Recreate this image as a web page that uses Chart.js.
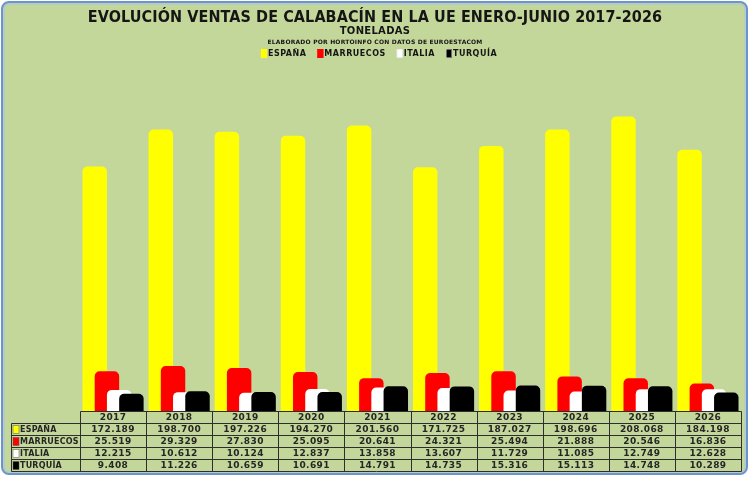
<!DOCTYPE html>
<html>
<head>
<meta charset="utf-8">
<script src="https://cdn.jsdelivr.net/npm/chart.js@4.4.0/dist/chart.umd.min.js"></script>
<style>
  html, body { margin: 0; padding: 0; background: #ffffff; }
  #wrap { width: 750px; height: 477px; }
</style>
</head>
<body>
<div id="wrap"><canvas id="myChart" width="750" height="477"></canvas></div>
<script>
// Datos (toneladas), enero-junio
var years = ["2017", "2018", "2019", "2020", "2021", "2022", "2023", "2024", "2025", "2026"];
var espana = [172189, 198700, 197226, 194270, 201560, 171725, 187027, 198696, 208068, 184198];
var marruecos = [25519, 29329, 27830, 25095, 20641, 24321, 25494, 21888, 20546, 16836];
var italia = [12215, 10612, 10124, 12837, 13858, 13607, 11729, 11085, 12749, 12628];
var turquia = [9408, 11226, 10659, 10691, 14791, 14735, 15316, 15113, 14748, 10289];
var seriesNames = ["ESPAÑA", "MARRUECOS", "ITALIA", "TURQUÍA"];
var seriesColors = ["#ffff00", "#ff0000", "#ffffff", "#000000"];

var Y_MIN = -2900;
var Y_MAX = 250000;
var BG = '#c4d79b';
var FONT = '"DejaVu Sans", Verdana, sans-serif';

//1.234 style thousands separator
function fmt(v) {
    var t = Math.floor(v / 1000);
    var r = String(v % 1000);
    while (r.length < 3) r = '0' + r;
    return t + '.' + r;
}

// frame + background
var framePlugin = {
    id: 'frame',
    beforeDraw: function (chart) {
        var ctx = chart.ctx;
        ctx.save();
        ctx.fillStyle = '#ffffff';
        ctx.fillRect(0, 0, chart.width, chart.height);
        ctx.beginPath();
        ctx.roundRect(2, 2, chart.width - 5, chart.height - 5, 7);
        ctx.fillStyle = BG;
        ctx.fill();
        ctx.lineWidth = 2;
        ctx.strokeStyle = '#6a93d0';
        ctx.stroke();
        ctx.beginPath();
        ctx.roundRect(4, 4, chart.width - 9, chart.height - 9, 5);
        ctx.lineWidth = 1;
        ctx.strokeStyle = '#a8c2e8';
        ctx.stroke();
        ctx.restore();
    }
};

// titles + legend
var headerPlugin = {
    id: 'header',
    afterDraw: function (chart) {
        var ctx = chart.ctx;
        var cx = chart.width / 2;
        ctx.save();
        ctx.fillStyle = '#151515';
        ctx.textAlign = 'center';
        ctx.textBaseline = 'middle';
        ctx.font = 'bold 16px "DejaVu Sans Condensed", ' + FONT;
        ctx.letterSpacing = '0.1px';
        ctx.fillText('EVOLUCIÓN VENTAS DE CALABACÍN EN LA UE ENERO-JUNIO 2017-2026', cx, 18);
        ctx.font = 'bold 10px ' + FONT;
        ctx.letterSpacing = '0.3px';
        ctx.fillText('TONELADAS', cx, 31);
        ctx.font = 'bold 6px ' + FONT;
        ctx.letterSpacing = '0.2px';
        ctx.fillText('ELABORADO POR HORTOINFO CON DATOS DE EUROESTACOM', cx, 42);

        // legend
        ctx.font = 'bold 8px ' + FONT;
        ctx.letterSpacing = '0.5px';
        ctx.textAlign = 'left';
        var gap = 11, key = 6;
        var widths = seriesNames.map(function (n) { return key + 1 + ctx.measureText(n).width; });
        var total = widths.reduce(function (a, b) { return a + b; }, 0) + gap * (widths.length - 1);
        var x = cx - total / 2 + 4;
        for (var i = 0; i < seriesNames.length; i++) {
            ctx.fillStyle = seriesColors[i];
            ctx.fillRect(x, 49, key, 9);
            ctx.strokeStyle = i >= 2 ? '#d8d8d8' : seriesColors[i];
            ctx.lineWidth = 0.5;
            ctx.strokeRect(x + 0.25, 49.25, key - 0.5, 8.5);
            ctx.fillStyle = '#151515';
            ctx.fillText(seriesNames[i], x + key + 1, 54);
            x += widths[i] + gap;
        }
        ctx.restore();
    }
};

// draw datasets first-to-last so later series sit on top
var orderPlugin = {
    id: 'drawOrder',
    beforeDatasetsDraw: function (chart) {
        var ctx = chart.ctx;
        var area = chart.chartArea;
        var metas = chart.getSortedVisibleDatasetMetas();
        ctx.save();
        ctx.beginPath();
        ctx.rect(area.left, 0, area.right - area.left, area.bottom);
        ctx.clip();
        metas.forEach(function (meta) { meta.controller.draw(); });
        ctx.restore();
        return false;
    }
};

// data table under the plot
var tablePlugin = {
    id: 'dataTable',
    afterDraw: function (chart) {
        var ctx = chart.ctx;
        var xs = chart.scales.x;
        var area = chart.chartArea;
        var colW = (area.right - area.left) / years.length;
        var rowH = 12;
        var top = Math.round(area.bottom) + 0.5;
        var rows = [espana, marruecos, italia, turquia];
        var leftX = 11.5;
        var right = Math.round(area.right) + 0.5;
        var left = Math.round(area.left) + 0.5;
        ctx.save();
        ctx.strokeStyle = '#2e2e2e';
        ctx.lineWidth = 1;
        // horizontal lines
        ctx.beginPath();
        ctx.moveTo(left, top); ctx.lineTo(right, top);
        for (var r = 1; r <= 5; r++) {
            var y = top + r * rowH;
            ctx.moveTo(leftX, y); ctx.lineTo(right, y);
        }
        // vertical lines
        ctx.moveTo(leftX, top + rowH); ctx.lineTo(leftX, top + 5 * rowH);
        for (var c = 0; c <= years.length; c++) {
            var vx = Math.round(area.left + c * colW) + 0.5;
            ctx.moveTo(vx, top); ctx.lineTo(vx, top + 5 * rowH);
        }
        ctx.stroke();

        ctx.fillStyle = '#262626';
        ctx.textBaseline = 'middle';
        ctx.textAlign = 'center';
        ctx.font = 'bold 9px ' + FONT;
        ctx.letterSpacing = '0.4px';
        for (var i = 0; i < years.length; i++) {
            var px = xs.getPixelForValue(i);
            ctx.fillText(years[i], px, top + rowH / 2 + 0.5);
            for (var s = 0; s < rows.length; s++) {
                ctx.fillText(fmt(rows[s][i]), px, top + (s + 1) * rowH + rowH / 2 + 0.5);
            }
        }
        // row headers
        ctx.textAlign = 'left';
        ctx.font = 'bold 8px ' + FONT;
        ctx.letterSpacing = '0.2px';
        for (var k = 0; k < seriesNames.length; k++) {
            var ry = top + (k + 1) * rowH;
            ctx.fillStyle = seriesColors[k];
            ctx.fillRect(13, ry + 2, 6, 8);
            ctx.strokeStyle = '#555555';
            ctx.lineWidth = 0.5;
            ctx.strokeRect(13, ry + 2, 6, 8);
            ctx.fillStyle = '#262626';
            ctx.fillText(seriesNames[k], 20, ry + rowH / 2 + 0.5);
        }
        ctx.restore();
    }
};

var seriesData = [espana, marruecos, italia, turquia];
var datasets = seriesData.map(function (d, i) {
    return {
        label: seriesNames[i],
        data: d,
        backgroundColor: seriesColors[i],
        borderWidth: 0,
        borderRadius: 5
    };
});

var ctx = document.getElementById("myChart").getContext("2d");
var chart = new Chart(ctx, {
    type: 'bar',
    data: { labels: years, datasets: datasets },
    options: {
        responsive: false,
        animation: false,
        devicePixelRatio: 1,
        layout: { padding: { left: 80, right: 9, top: 58, bottom: 66 } },
        datasets: {
            bar: { categoryPercentage: 0.74, barPercentage: 2, base: Y_MIN }
        },
        scales: {
            x: { display: false },
            y: { display: false, min: Y_MIN, max: Y_MAX }
        },
        plugins: {
            legend: { display: false },
            title: { display: false },
            tooltip: { enabled: false }
        }
    },
    plugins: [framePlugin, orderPlugin, tablePlugin, headerPlugin]
});
</script>
</body>
</html>
